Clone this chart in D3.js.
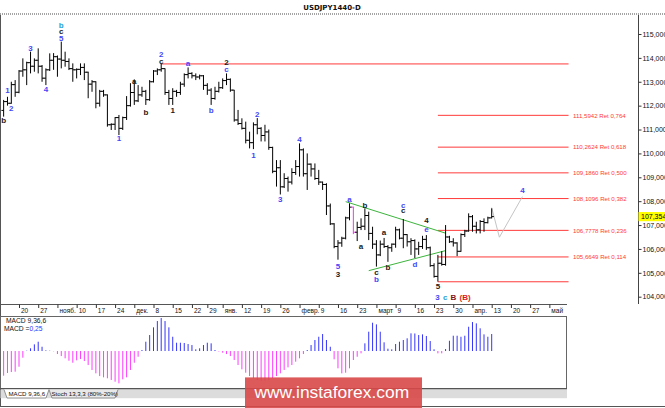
<!DOCTYPE html>
<html><head><meta charset="utf-8">
<script src="https://cdn.jsdelivr.net/npm/d3@7"></script>
<style>html,body{margin:0;padding:0;background:#fff;}svg{display:block;}</style>
</head><body>
<svg id="c" width="665" height="408"></svg>
<script>
// ---------- data ----------
const chartTitle = "USDJPY1440-D";
const firstDay = "2017-10-16";
const lastAxisDay = "2018-05-12";
const closedDays = ["2017-12-25", "2018-01-01"];

const opens = [111.80,112.17,112.10,112.88,112.56,113.45,113.50,113.80,113.65,113.90,
113.65,113.15,113.50,113.90,114.05,113.95,113.90,113.85,113.55,113.50,
113.52,113.60,113.40,112.90,113.00,112.10,112.60,112.45,111.20,111.22,
111.50,111.05,111.50,112.00,112.55,112.20,112.45,112.60,112.25,113.00,
113.45,113.50,113.55,112.55,112.30,112.60,112.55,112.90,113.30,113.35,
113.25,113.20,113.25,112.85,112.65,112.30,112.60,112.75,113.05,113.10,
112.65,111.40,111.25,111.05,110.55,110.45,111.20,111.05,110.75,110.90,
110.25,109.25,109.40,108.60,108.95,108.80,109.20,109.45,110.15,109.15,
109.55,109.35,108.95,108.80,108.70,107.80,107.05,106.10,106.25,106.45,
107.30,107.75,106.70,106.90,106.95,107.40,106.65,106.20,105.75,106.20,
106.10,106.05,106.20,106.80,106.45,106.60,106.30,106.35,106.00,106.10,
106.40,106.05,105.30,104.85,105.40,105.35,106.50,106.30,106.25,105.90,
106.60,106.75,107.35,106.95,106.80,107.15,107.10,107.30];
const highs = [112.24,112.37,113.00,113.07,113.49,113.98,113.84,114.26,113.98,114.40,
113.70,113.56,114.19,114.20,114.10,114.68,114.26,113.98,113.77,113.56,
113.77,113.77,113.42,113.07,113.02,112.66,112.66,112.47,111.26,111.52,
111.61,111.54,112.40,112.94,113.10,112.86,112.79,112.66,113.07,113.49,
113.56,113.75,113.56,112.66,112.73,112.66,113.00,113.35,113.60,113.40,
113.35,113.30,113.28,112.94,112.73,112.79,113.00,113.14,113.35,113.14,
112.66,111.82,111.47,111.33,110.91,111.30,111.48,111.10,111.20,111.00,
110.28,109.72,109.72,109.17,109.03,109.38,109.72,110.42,110.21,110.00,
109.58,109.58,109.31,108.82,108.75,107.90,107.08,106.37,106.51,107.35,
107.91,107.77,107.14,107.28,107.70,107.56,106.93,106.37,106.35,106.46,
106.16,106.23,106.93,106.85,107.25,106.62,106.45,106.40,106.30,106.55,
106.58,106.10,105.40,105.75,105.90,107.00,106.55,106.45,106.28,106.65,
106.80,107.49,107.42,107.14,107.21,107.28,107.35,107.70];
const lows = [111.54,112.00,112.08,112.37,112.52,113.21,112.86,113.35,113.42,113.35,
113.00,112.86,113.45,113.50,113.21,113.56,113.63,113.49,113.00,113.14,
113.28,113.07,112.31,112.58,111.89,111.96,112.37,111.12,110.98,110.98,
110.77,110.98,111.40,111.96,112.03,112.15,112.37,112.03,112.20,112.97,
113.28,113.42,112.45,112.03,112.03,112.37,112.45,112.79,113.14,113.14,
113.07,113.10,112.66,112.45,112.03,112.25,112.55,112.70,112.86,112.58,
111.33,111.19,111.00,110.42,110.21,110.18,110.80,110.50,110.50,110.15,
109.17,108.61,108.28,108.55,108.40,108.70,109.10,109.03,109.03,108.47,
109.03,108.89,108.68,108.47,107.42,107.00,106.03,105.55,106.09,106.40,
107.20,106.62,106.33,106.79,106.79,106.37,106.00,105.26,105.70,106.04,
105.46,105.88,106.05,106.40,106.03,106.10,105.75,105.62,105.75,106.00,
105.96,105.25,104.80,104.63,105.30,105.30,106.25,106.10,105.70,105.88,
106.50,106.72,106.72,106.65,106.65,106.72,107.07,107.28];
const closes = [112.17,112.10,112.88,112.56,113.45,113.50,113.80,113.65,113.90,113.65,
113.15,113.50,113.90,114.05,113.95,113.90,113.85,113.55,113.50,113.52,
113.60,113.40,112.90,113.00,112.10,112.60,112.45,111.20,111.22,111.50,
111.05,111.50,112.00,112.55,112.20,112.45,112.60,112.25,113.00,113.45,
113.50,113.55,112.55,112.30,112.60,112.55,112.90,113.30,113.35,113.25,
113.20,113.25,112.85,112.65,112.30,112.60,112.75,113.05,113.10,112.65,
111.40,111.25,111.05,110.55,110.45,111.20,111.05,110.75,110.90,110.25,
109.25,109.40,108.60,108.95,108.80,109.20,109.45,110.15,109.15,109.55,
109.35,108.95,108.80,108.70,107.80,107.05,106.10,106.25,106.45,107.30,
107.75,106.70,106.90,106.95,107.40,106.65,106.20,105.75,106.20,106.10,
106.05,106.20,106.80,106.45,106.60,106.30,106.35,106.00,106.10,106.40,
106.05,105.30,104.85,105.40,105.35,106.50,106.30,106.25,105.90,106.60,
106.75,107.35,106.95,106.80,107.15,107.10,107.30,107.354];

const macdHist = [-0.363,-0.323,-0.309,-0.304,-0.231,-0.098,0.005,0.040,0.098,0.137,
0.063,0.010,0.005,-0.004,-0.044,-0.074,-0.107,-0.143,-0.172,-0.137,
-0.118,-0.147,-0.206,-0.279,-0.328,-0.368,-0.387,-0.401,-0.426,-0.451,
-0.475,-0.416,-0.387,-0.279,-0.172,-0.084,0.015,0.137,0.235,0.348,
0.441,0.485,0.441,0.348,0.210,0.122,0.122,0.118,0.103,0.088,
0.025,0.040,0.088,0.122,0.113,0.015,-0.007,-0.025,-0.044,-0.074,
-0.132,-0.206,-0.269,-0.319,-0.368,-0.401,-0.426,-0.437,-0.436,-0.428,
-0.401,-0.368,-0.328,-0.279,-0.240,-0.206,-0.157,-0.107,-0.044,0.015,
0.088,0.162,0.210,0.250,0.162,0.063,-0.122,-0.254,-0.328,-0.319,
-0.254,-0.132,-0.084,-0.034,0.113,0.284,0.416,0.392,0.284,0.128,
0.034,0.025,0.103,0.137,0.162,0.187,0.260,0.258,0.235,0.245,
0.221,0.147,0.025,-0.034,-0.034,0.029,0.151,0.225,0.225,0.210,
0.225,0.357,0.426,0.407,0.334,0.245,0.210,0.250];
const macdName = "MACD 9,36,6";
const macdNow = "0,25";

const xTickLabels = ["20","27","нояб.","10","17","24","дек.","8","15","22","29","янв.","12","19","26","февр.","9","16","23","март","9","16","23","30","апр.","13","20","27","май"];
const xTickDates = ["2017-10-20","2017-10-27","2017-11-03","2017-11-10","2017-11-17","2017-11-24","2017-12-01","2017-12-08","2017-12-15","2017-12-22","2017-12-29","2018-01-05","2018-01-12","2018-01-19","2018-01-26","2018-02-02","2018-02-09","2018-02-16","2018-02-23","2018-03-02","2018-03-09","2018-03-16","2018-03-23","2018-03-30","2018-04-06","2018-04-13","2018-04-20","2018-04-27","2018-05-04"];
const priceTicks = [104,105,106,107,108,109,110,111,112,113,114,115];
const lastPrice = 107.354;

const fibLow = 104.625, fibHigh = 113.747;
const fibRatios = [0.114, 0.236, 0.382, 0.5, 0.618, 0.764];
const fibHighDate = "2017-12-12", fibLowDate = "2018-03-26", fibEndDate = "2018-05-11";

const upperTrendDates = ["2018-02-20", "2018-03-28"], upperTrendPrices = [107.98, 106.66];
const lowerTrendDates = ["2018-02-28", "2018-03-28"], lowerTrendPrices = [105.09, 105.93];
const projDates = ["2018-04-13", "2018-04-17", "2018-04-25"], projPrices = [107.73, 106.49, 108.19];
const markedBarDate = "2018-02-22";

const waveText = ["b","c","5","3","4","1","2","b","a","b","1","2","c","1","a","b","2","c","2","1","4","3","5","3","a","b","a","c","b","a","b","c","c","d","4","e","5","4"];
const waveDate = ["2017-11-06","2017-11-06","2017-11-06","2017-10-25","2017-10-31","2017-10-17","2017-10-18","2017-10-16","2017-12-01","2017-12-06","2017-11-27","2017-12-12","2017-12-12","2017-12-15","2017-12-21","2018-01-02","2018-01-08","2018-01-08","2018-01-18","2018-01-17","2018-02-02","2018-01-26","2018-02-16","2018-02-16","2018-02-21","2018-02-27","2018-02-26","2018-03-02","2018-03-02","2018-03-06","2018-03-07","2018-03-13","2018-03-13","2018-03-16","2018-03-21","2018-03-21","2018-03-26","2018-04-25"];
const wavePrice = [115.34,115.10,114.82,114.40,112.68,112.65,111.86,111.37,113.03,111.72,110.63,114.15,113.84,111.78,113.77,111.78,113.80,113.52,111.64,109.93,110.59,108.08,105.28,104.94,108.09,107.81,106.09,105.02,104.70,106.68,105.21,107.81,107.59,105.33,107.17,106.82,104.42,108.43];
const waveTone = ["cyan","black","blue","blue","blue","blue","blue","black","black","black","blue","blue","black","black","blue","blue","black","blue","blue","blue","blue","blue","blue","black","blue","black","black","black","blue","black","black","blue","black","blue","black","blue","black","blue"];
const bottomRowDate = "2018-03-26", bottomRowPrice = 104.00;
const bottomRowText = ["3", "c", "B", "(B)"];
const bottomRowTone = ["blue", "cyan", "darkred", "red"];

// ---------- setup ----------
const toneColor = {blue:"#4646f5", black:"#1a1a1a", cyan:"#2a9fd8", darkred:"#8a1010", red:"#e01818"};
const parse = d3.timeParse("%Y-%m-%d"), fmt = d3.timeFormat("%Y-%m-%d");
const sessions = d3.timeDay.range(parse(firstDay), parse(lastAxisDay))
  .filter(d => d.getDay() !== 0 && d.getDay() !== 6 && !closedDays.includes(fmt(d)))
  .map(fmt);
const dayIdx = new Map(sessions.map((s, i) => [s, i]));
const n = opens.length;
const x = d3.scaleLinear().domain([0, n - 1]).range([3.63, 491.7]);
const xd = s => x(dayIdx.get(s));
const y = d3.scaleLinear().domain([104, 115]).range([296.7, 34]);
const yM = d3.scaleLinear().domain([-0.554, 0.515]).range([388.7, 316]);
const comma = s => s.replace(".", ",");
const FONT = "'Liberation Sans', Arial, sans-serif";

const svg = d3.select("#c");
svg.append("rect").attr("width", 665).attr("height", 408).attr("fill", "#fff");

// title
svg.append("text").attr("x", 332).attr("y", 9.6).attr("text-anchor", "middle")
  .attr("font-family", "'DejaVu Sans', sans-serif").attr("font-weight", "bold").attr("font-size", 7)
  .attr("fill", "#111").text(chartTitle);
svg.append("line").attr("x1", 0).attr("x2", 665).attr("y1", 14).attr("y2", 14)
  .attr("stroke", "#a4a4a4").attr("stroke-width", 2).attr("stroke-dasharray", "1,1");

// frames
svg.append("line").attr("x1", 0.5).attr("x2", 0.5).attr("y1", 15).attr("y2", 407).attr("stroke", "#555");
svg.append("line").attr("x1", 638.5).attr("x2", 638.5).attr("y1", 15).attr("y2", 304).attr("stroke", "#444");
svg.append("line").attr("x1", 0).attr("x2", 567).attr("y1", 304.5).attr("y2", 304.5).attr("stroke", "#555");

// right price axis
const ya = svg.append("g").attr("transform", "translate(638.5,0)")
  .call(d3.axisRight(y).tickValues(priceTicks).tickSize(3).tickPadding(1)
    .tickFormat(v => comma(d3.format(".3f")(v))));
ya.select(".domain").remove();
ya.selectAll("line").attr("stroke", "#333");
ya.selectAll("text").attr("font-family", FONT).attr("font-size", 7).attr("fill", "#111");

// last price box
svg.append("rect").attr("x", 638.5).attr("y", y(lastPrice) - 4.6).attr("width", 27).attr("height", 9.2).attr("fill", "#ffff00");
svg.append("text").attr("x", 641).attr("y", y(lastPrice) + 2.5).attr("font-family", FONT)
  .attr("font-size", 7).attr("fill", "#000").text(comma(d3.format(".3f")(lastPrice)));

// bottom time axis
const xa = svg.append("g").attr("transform", "translate(0,304.5)")
  .call(d3.axisBottom(x).tickValues(xTickDates.map(s => dayIdx.get(s))).tickSize(3.5).tickPadding(1)
    .tickFormat((d, i) => xTickLabels[i]));
xa.select(".domain").remove();
xa.selectAll("line").attr("stroke", "#333");
xa.selectAll("text").attr("text-anchor", "start").attr("dx", "1.5").attr("dy", "0.6em")
  .attr("font-family", FONT).attr("font-size", 6.5).attr("fill", "#111");

// fib lines
const fibEndX = xd(fibEndDate);
const fibLevels = [0].concat(fibRatios).concat([1]);
fibLevels.forEach(r => {
  const p = fibLow + r * (fibHigh - fibLow);
  const x0 = r === 1 ? xd(fibHighDate) : xd(fibLowDate);
  svg.append("line").attr("x1", x0).attr("x2", fibEndX).attr("y1", y(p)).attr("y2", y(p))
    .attr("stroke", "#ff3a3a").attr("stroke-width", 1);
  if (r > 0 && r < 1) {
    svg.append("text").attr("x", fibEndX + 4.5).attr("y", y(p) + 2.2)
      .attr("font-family", FONT).attr("font-size", 6.1).attr("fill", "#ff3a3a")
      .text(comma(d3.format(".4f")(p)) + " Ret " + comma(d3.format(".3f")(r)));
  }
});

// triangle lines
const line = d3.line();
svg.append("path").attr("d", line(upperTrendDates.map((d, i) => [xd(d), y(upperTrendPrices[i])])))
  .attr("stroke", "#3cb43c").attr("fill", "none");
svg.append("path").attr("d", line(lowerTrendDates.map((d, i) => [xd(d), y(lowerTrendPrices[i])])))
  .attr("stroke", "#3cb43c").attr("fill", "none");

// projection
svg.append("path").attr("d", line(projDates.map((d, i) => [xd(d), y(projPrices[i])])))
  .attr("stroke", "#c4c4c4").attr("fill", "none");

// OHLC bars
const markedIdx = dayIdx.get(markedBarDate);
svg.append("g").selectAll("path").data(d3.range(n)).join("path")
  .attr("d", i => {
    const xi = x(i);
    return `M${xi},${y(highs[i])}V${y(lows[i])}M${xi - 2.2},${y(opens[i])}H${xi}M${xi},${y(closes[i])}H${xi + 2.2}`;
  })
  .attr("fill", "none").attr("stroke", i => i === markedIdx ? "#e83ce8" : "#000").attr("stroke-width", 1);

// wave labels
svg.append("g").selectAll("text").data(waveText).join("text")
  .attr("x", (t, i) => xd(waveDate[i])).attr("y", (t, i) => y(wavePrice[i]))
  .attr("text-anchor", "middle").attr("dominant-baseline", "central")
  .attr("font-family", FONT).attr("font-weight", "bold").attr("font-size", 8)
  .attr("fill", (t, i) => toneColor[waveTone[i]]).text(t => t);

const row = svg.append("text").attr("x", xd(bottomRowDate) - 2.6).attr("y", y(bottomRowPrice))
  .attr("dominant-baseline", "central").attr("font-family", FONT).attr("font-weight", "bold").attr("font-size", 8);
bottomRowText.forEach((t, i) => {
  row.append("tspan").attr("fill", toneColor[bottomRowTone[i]]).attr("dx", i ? 3.2 : 0).text(t);
});

// MACD panel
svg.append("rect").attr("x", 0.5).attr("y", 316.5).attr("width", 566).attr("height", 72)
  .attr("fill", "#fff").attr("stroke", "#666");
svg.append("line").attr("x1", 0).attr("x2", 567).attr("y1", 388.8).attr("y2", 388.8).attr("stroke", "#555").attr("stroke-width", 1.6);
svg.append("g").selectAll("line").data(macdHist).join("line")
  .attr("x1", (v, i) => x(i)).attr("x2", (v, i) => x(i))
  .attr("y1", yM(0)).attr("y2", v => yM(v))
  .attr("stroke", v => v >= 0 ? "#3434ff" : "#ff3cff").attr("stroke-width", 1);
svg.append("text").attr("x", 6).attr("y", 323.3).attr("font-family", FONT).attr("font-size", 6.7)
  .attr("fill", "#111").text(macdName);
const mv = svg.append("text").attr("x", 4).attr("y", 330.8).attr("font-family", FONT).attr("font-size", 6.7).attr("fill", "#111");
mv.append("tspan").text("MACD =");
mv.append("tspan").attr("fill", "#2f2fff").text(macdNow);

// tabs band
svg.append("rect").attr("x", 0.5).attr("y", 389.6).attr("width", 566.5).attr("height", 8.6).attr("fill", "#dcdcdc");
svg.append("path").attr("d", "M4,389.6L7,398L46,398L49,389.6").attr("fill", "#fff").attr("stroke", "#777").attr("stroke-width", 0.8);
svg.append("path").attr("d", "M49,389.6L52,398L115,398L118,389.6").attr("fill", "#e8e8e8").attr("stroke", "#777").attr("stroke-width", 0.8);
svg.append("text").attr("x", 8.5).attr("y", 396.3).attr("font-family", FONT).attr("font-size", 6.1).attr("fill", "#111").text(macdName);
svg.append("text").attr("x", 51.5).attr("y", 396.3).attr("font-family", FONT).attr("font-size", 6.1).attr("fill", "#111").text("Stoch 13,3,3 (80%-20%)");

// bottom frame
svg.append("line").attr("x1", 0).attr("x2", 665).attr("y1", 406.5).attr("y2", 406.5).attr("stroke", "#555");

// watermark
svg.append("rect").attr("x", 245).attr("y", 377.4).attr("width", 177).attr("height", 31)
  .attr("fill", "#d84848").attr("opacity", 0.9);
svg.append("text").attr("x", 254.5).attr("y", 398.2).attr("font-family", "'Liberation Sans', Arial, sans-serif")
  .attr("font-size", 17.4).attr("fill", "#fff").text("www.instaforex.com");
</script>
</body></html>
